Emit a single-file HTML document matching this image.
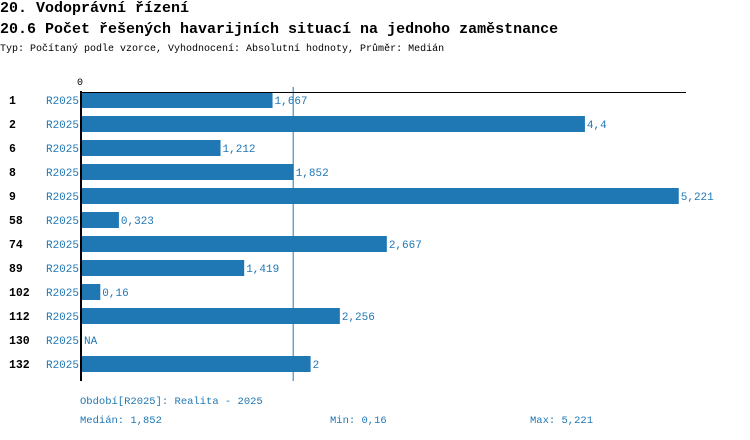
<!DOCTYPE html>
<html><head><meta charset="utf-8"><style>
body{margin:0;width:750px;height:440px;background:#fff;overflow:hidden;font-family:"Liberation Mono",monospace}
.t{position:absolute;white-space:nowrap}
</style></head><body>
<div class="t" style="left:0;top:0;font-size:15px;font-weight:bold;color:#000">20. Vodoprávní řízení</div>
<div class="t" style="left:0;top:21px;font-size:15px;font-weight:bold;color:#000">20.6 Počet řešených havarijních situací na jednoho zaměstnance</div>
<div class="t" style="left:0;top:44px;font-size:10px;color:#000">Typ: Počítaný podle vzorce, Vyhodnocení: Absolutní hodnoty, Průměr: Medián</div>
<svg id="c" width="750" height="440" style="position:absolute;left:0;top:0" font-family="Liberation Mono, monospace"></svg>
<div class="t" style="left:80px;top:396px;font-size:10.5px;color:#1f77b4">Období[R2025]: Realita - 2025</div>
<div class="t" style="left:80px;top:415px;font-size:10.5px;color:#1f77b4">Medián: 1,852</div>
<div class="t" style="left:330px;top:415px;font-size:10.5px;color:#1f77b4">Min: 0,16</div>
<div class="t" style="left:530px;top:415px;font-size:10.5px;color:#1f77b4">Max: 5,221</div>
<script>
const categories=["1","2","6","8","9","58","74","89","102","112","130","132"];
const values=[1.667,4.4,1.212,1.852,5.221,0.323,2.667,1.419,0.16,2.256,null,2];
const valueLabels=["1,667","4,4","1,212","1,852","5,221","0,323","2,667","1,419","0,16","2,256","NA","2"];
const series="R2025";
const median=1.852;
const svg=document.getElementById('c');
const NS='http://www.w3.org/2000/svg';
const x0=82,scale=114.3,y0=92,step=24,bh=16;
const xs=v=>x0+v*scale;
function mk(tag,attrs,txt){const e=document.createElementNS(NS,tag);for(const k in attrs)e.setAttribute(k,attrs[k]);if(txt!==undefined)e.textContent=txt;svg.appendChild(e);return e;}
categories.forEach((c,i)=>{
 const yc=y0+i*step+bh/2;
 const l=mk('text',{x:9,y:yc+4,'font-size':11.5,'font-weight':'bold',fill:'#000'},c);
 
 
 const s=mk('text',{x:79,y:yc+4,'font-size':11,fill:'#1f77b4','text-anchor':'end'},series);
 
 
 const v=values[i];
 let end=x0;
 if(v!==null){
  const r=mk('rect',{x:x0,y:y0+i*step,width:xs(v)-x0,height:bh,fill:'#1f77b4'});
  
  
  end=xs(v);
 }
 const t=mk('text',{x:end+2,y:yc+4,'font-size':11,fill:'#1f77b4'},valueLabels[i]);
 
 
});
const ml=mk('line',{x1:xs(median)-0.5,x2:xs(median)-0.5,y1:87,y2:381,stroke:'#1f77b4','stroke-width':1});


const ax=mk('line',{x1:81,x2:81,y1:91,y2:381,stroke:'#000','stroke-width':2});


const tx=mk('line',{x1:80,x2:686,y1:92.5,y2:92.5,stroke:'#000','stroke-width':1});


const z=mk('text',{x:80,y:85,'font-size':10,fill:'#000','text-anchor':'middle'},'0');


</script>
</body></html>
